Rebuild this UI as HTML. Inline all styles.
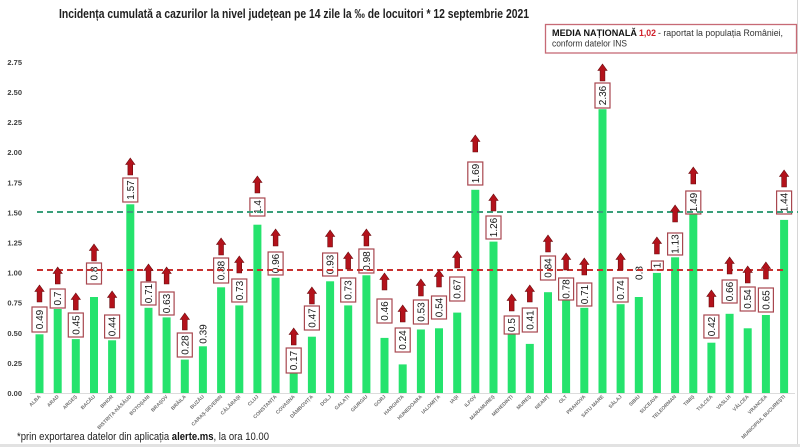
<!DOCTYPE html>
<html><head><meta charset="utf-8">
<style>
html,body{margin:0;padding:0;background:#fff;}
svg{display:block;}
.t{font-family:"Liberation Sans",Arial,sans-serif;}
.yl{font-family:"Liberation Sans",Arial,sans-serif;font-size:7.5px;font-weight:bold;fill:#404040;text-anchor:end;}
.cl{font-family:"Liberation Sans",Arial,sans-serif;font-size:5px;font-weight:bold;fill:#707070;text-anchor:end;}
.bv{font-family:"Liberation Sans",Arial,sans-serif;font-size:10px;fill:#151515;text-anchor:middle;}
.bx{fill:#fff;stroke:#a8474f;stroke-width:1.2;}
.bar{fill:#25e36d;}
</style></head>
<body>
<svg width="800" height="447" viewBox="0 0 800 447" xmlns="http://www.w3.org/2000/svg">
<defs>
<polygon id="arr" points="0,0 4.6,6.5 2.4,6.5 2.4,17 -2.4,17 -2.4,6.5 -4.6,6.5" fill="#b3121b" stroke="#6a0a0e" stroke-width="0.6"/>
</defs>
<rect x="0" y="0" width="800" height="447" fill="#fff"/>
<!-- frame -->
<line x1="797.5" y1="0" x2="797.5" y2="444" stroke="#d6d6d6" stroke-width="1"/>
<rect x="0" y="444" width="800" height="3" fill="#e2e2e2"/>

<!-- title -->
<text class="t" x="59" y="18" font-size="13" font-weight="bold" fill="#1f1f1f" textLength="470" lengthAdjust="spacingAndGlyphs">Incidența cumulată a cazurilor la nivel județean pe 14 zile la ‰ de locuitori * 12 septembrie 2021</text>

<!-- legend -->
<rect x="545.5" y="24.5" width="251" height="28.5" fill="#fff" stroke="#c76a75" stroke-width="1.3"/>
<text class="t" x="552" y="36" font-size="9.5" font-weight="bold" fill="#111" textLength="85" lengthAdjust="spacingAndGlyphs">MEDIA NAȚIONALĂ</text>
<text class="t" x="639" y="36" font-size="9.5" font-weight="bold" fill="#d0202a" textLength="17" lengthAdjust="spacingAndGlyphs">1,02</text>
<text class="t" x="658" y="36" font-size="9" fill="#333" textLength="125" lengthAdjust="spacingAndGlyphs">- raportat la populația României,</text>
<text class="t" x="552" y="46.5" font-size="9" fill="#333" textLength="75" lengthAdjust="spacingAndGlyphs">conform datelor INS</text>

<!-- y axis labels -->
<text class="yl" x="22" y="396">0.00</text>
<text class="yl" x="22" y="365.9">0.25</text>
<text class="yl" x="22" y="335.8">0.50</text>
<text class="yl" x="22" y="305.7">0.75</text>
<text class="yl" x="22" y="275.6">1.00</text>
<text class="yl" x="22" y="245.5">1.25</text>
<text class="yl" x="22" y="215.4">1.50</text>
<text class="yl" x="22" y="185.3">1.75</text>
<text class="yl" x="22" y="155.2">2.00</text>
<text class="yl" x="22" y="125.1">2.25</text>
<text class="yl" x="22" y="95">2.50</text>
<text class="yl" x="22" y="64.9">2.75</text>

<!-- axis line -->
<line x1="30" y1="393.5" x2="795" y2="393.5" stroke="#dcdcdc" stroke-width="1"/>

<!-- bars -->
<rect class="bar" x="35.5" y="334.3" width="8" height="58.7"/>
<rect class="bar" x="53.7" y="309" width="8" height="84"/>
<rect class="bar" x="71.8" y="339.1" width="8" height="53.9"/>
<rect class="bar" x="90" y="297" width="8" height="96"/>
<rect class="bar" x="108.1" y="340.3" width="8" height="52.7"/>
<rect class="bar" x="126.3" y="204.3" width="8" height="188.7"/>
<rect class="bar" x="144.5" y="307.8" width="8" height="85.2"/>
<rect class="bar" x="162.6" y="317.4" width="8" height="75.6"/>
<rect class="bar" x="180.8" y="359.6" width="8" height="33.4"/>
<rect class="bar" x="198.9" y="346.3" width="8" height="46.7"/>
<rect class="bar" x="217.1" y="287.3" width="8" height="105.7"/>
<rect class="bar" x="235.3" y="305.4" width="8" height="87.6"/>
<rect class="bar" x="253.4" y="224.7" width="8" height="168.3"/>
<rect class="bar" x="271.6" y="277.7" width="8" height="115.3"/>
<rect class="bar" x="289.7" y="372.8" width="8" height="20.2"/>
<rect class="bar" x="307.9" y="336.7" width="8" height="56.3"/>
<rect class="bar" x="326.1" y="281.3" width="8" height="111.7"/>
<rect class="bar" x="344.2" y="305.4" width="8" height="87.6"/>
<rect class="bar" x="362.4" y="275.3" width="8" height="117.7"/>
<rect class="bar" x="380.5" y="337.9" width="8" height="55.1"/>
<rect class="bar" x="398.7" y="364.4" width="8" height="28.6"/>
<rect class="bar" x="416.9" y="329.5" width="8" height="63.5"/>
<rect class="bar" x="435" y="328.3" width="8" height="64.7"/>
<rect class="bar" x="453.2" y="312.6" width="8" height="80.4"/>
<rect class="bar" x="471.3" y="189.8" width="8" height="203.2"/>
<rect class="bar" x="489.5" y="241.6" width="8" height="151.4"/>
<rect class="bar" x="507.7" y="333.1" width="8" height="59.9"/>
<rect class="bar" x="525.8" y="343.9" width="8" height="49.1"/>
<rect class="bar" x="544" y="292.2" width="8" height="100.8"/>
<rect class="bar" x="562.1" y="299.4" width="8" height="93.6"/>
<rect class="bar" x="580.3" y="307.8" width="8" height="85.2"/>
<rect class="bar" x="598.5" y="109.2" width="8" height="283.8"/>
<rect class="bar" x="616.6" y="304.2" width="8" height="88.8"/>
<rect class="bar" x="634.8" y="297" width="8" height="96"/>
<rect class="bar" x="652.9" y="272.9" width="8" height="120.1"/>
<rect class="bar" x="671.1" y="257.3" width="8" height="135.7"/>
<rect class="bar" x="689.3" y="213.9" width="8" height="179.1"/>
<rect class="bar" x="707.4" y="342.7" width="8" height="50.3"/>
<rect class="bar" x="725.6" y="313.8" width="8" height="79.2"/>
<rect class="bar" x="743.7" y="328.3" width="8" height="64.7"/>
<rect class="bar" x="761.9" y="315" width="8" height="78"/>
<rect class="bar" x="780.1" y="219.9" width="8" height="173.1"/>

<!-- value boxes -->
<g>
<rect class="bx" x="32" y="307" width="15" height="25"/><text class="bv" transform="translate(43,319.5) rotate(-90)">0.49</text>
<rect class="bx" x="50.2" y="289" width="15" height="19"/><text class="bv" transform="translate(61.2,298.5) rotate(-90)">0.7</text>
<rect class="bx" x="68.3" y="313" width="15" height="24"/><text class="bv" transform="translate(79.3,325) rotate(-90)">0.45</text>
<rect class="bx" x="86.5" y="263" width="15" height="21"/><text class="bv" transform="translate(97.5,273.5) rotate(-90)">0.8</text>
<rect class="bx" x="104.6" y="315" width="15" height="23"/><text class="bv" transform="translate(115.6,326.5) rotate(-90)">0.44</text>
<rect class="bx" x="122.8" y="178" width="15" height="24"/><text class="bv" transform="translate(133.8,190) rotate(-90)">1.57</text>
<rect class="bx" x="141" y="282" width="15" height="23"/><text class="bv" transform="translate(152,293.5) rotate(-90)">0.71</text>
<rect class="bx" x="159.1" y="292" width="15" height="23"/><text class="bv" transform="translate(170.1,303.5) rotate(-90)">0.63</text>
<rect class="bx" x="177.3" y="333" width="15" height="24"/><text class="bv" transform="translate(188.3,345) rotate(-90)">0.28</text>
<text class="bv" transform="translate(206.4,334) rotate(-90)">0.39</text>
<rect class="bx" x="213.6" y="258" width="15" height="25"/><text class="bv" transform="translate(224.6,270.5) rotate(-90)">0.88</text>
<rect class="bx" x="231.8" y="279" width="15" height="23"/><text class="bv" transform="translate(242.8,290.5) rotate(-90)">0.73</text>
<rect class="bx" x="249.9" y="198" width="15" height="18"/><text class="bv" transform="translate(260.9,207) rotate(-90)">1.4</text>
<rect class="bx" x="268.1" y="252" width="15" height="23"/><text class="bv" transform="translate(279.1,263.5) rotate(-90)">0.96</text>
<rect class="bx" x="286.2" y="348" width="15" height="25"/><text class="bv" transform="translate(297.2,360.5) rotate(-90)">0.17</text>
<rect class="bx" x="304.4" y="306" width="15" height="24"/><text class="bv" transform="translate(315.4,318) rotate(-90)">0.47</text>
<rect class="bx" x="322.6" y="253" width="15" height="23"/><text class="bv" transform="translate(333.6,264.5) rotate(-90)">0.93</text>
<rect class="bx" x="340.7" y="278" width="15" height="24"/><text class="bv" transform="translate(351.7,290) rotate(-90)">0.73</text>
<rect class="bx" x="358.9" y="249" width="15" height="24"/><text class="bv" transform="translate(369.9,261) rotate(-90)">0.98</text>
<rect class="bx" x="377" y="299" width="15" height="24"/><text class="bv" transform="translate(388,311) rotate(-90)">0.46</text>
<rect class="bx" x="395.2" y="328" width="15" height="24"/><text class="bv" transform="translate(406.2,340) rotate(-90)">0.24</text>
<rect class="bx" x="413.4" y="300" width="15" height="24"/><text class="bv" transform="translate(424.4,312) rotate(-90)">0.53</text>
<rect class="bx" x="431.5" y="296" width="15" height="23"/><text class="bv" transform="translate(442.5,307.5) rotate(-90)">0.54</text>
<rect class="bx" x="449.7" y="277" width="15" height="24"/><text class="bv" transform="translate(460.7,289) rotate(-90)">0.67</text>
<rect class="bx" x="467.8" y="162" width="15" height="23"/><text class="bv" transform="translate(478.8,173.5) rotate(-90)">1.69</text>
<rect class="bx" x="486" y="216" width="15" height="23"/><text class="bv" transform="translate(497,227.5) rotate(-90)">1.26</text>
<rect class="bx" x="504.2" y="316" width="15" height="18"/><text class="bv" transform="translate(515.2,325) rotate(-90)">0.5</text>
<rect class="bx" x="522.3" y="308" width="15" height="24"/><text class="bv" transform="translate(533.3,320) rotate(-90)">0.41</text>
<rect class="bx" x="540.5" y="256" width="15" height="24"/><text class="bv" transform="translate(551.5,268) rotate(-90)">0.84</text>
<rect class="bx" x="558.6" y="278" width="15" height="22"/><text class="bv" transform="translate(569.6,289) rotate(-90)">0.78</text>
<rect class="bx" x="576.8" y="283" width="15" height="23"/><text class="bv" transform="translate(587.8,294.5) rotate(-90)">0.71</text>
<rect class="bx" x="595" y="83" width="15" height="25"/><text class="bv" transform="translate(606,95.5) rotate(-90)">2.36</text>
<rect class="bx" x="613.1" y="278" width="15" height="24"/><text class="bv" transform="translate(624.1,290) rotate(-90)">0.74</text>
<text class="bv" transform="translate(642.3,273) rotate(-90)">0.8</text>
<rect class="bx" x="651.4" y="261" width="12" height="9"/><text class="bv" font-size="8" transform="translate(660.4,265.5) rotate(-90)">1</text>
<rect class="bx" x="667.6" y="233" width="15" height="22"/><text class="bv" transform="translate(678.6,244) rotate(-90)">1.13</text>
<rect class="bx" x="685.8" y="191" width="15" height="23"/><text class="bv" transform="translate(696.8,202.5) rotate(-90)">1.49</text>
<rect class="bx" x="703.9" y="315" width="15" height="23"/><text class="bv" transform="translate(714.9,326.5) rotate(-90)">0.42</text>
<rect class="bx" x="722.1" y="280" width="15" height="23"/><text class="bv" transform="translate(733.1,291.5) rotate(-90)">0.66</text>
<rect class="bx" x="740.2" y="287" width="15" height="24"/><text class="bv" transform="translate(751.2,299) rotate(-90)">0.54</text>
<rect class="bx" x="758.4" y="288" width="15" height="24"/><text class="bv" transform="translate(769.4,300) rotate(-90)">0.65</text>
<rect class="bx" x="776.6" y="191" width="15" height="23"/><text class="bv" transform="translate(787.6,202.5) rotate(-90)">1.44</text>
</g>

<!-- reference lines -->
<line x1="37" y1="270" x2="786" y2="270" stroke="#c8302f" stroke-width="2" stroke-dasharray="6,4"/>
<line x1="37" y1="212" x2="798" y2="212" stroke="#3a9f7a" stroke-width="2" stroke-dasharray="6,4"/>

<!-- arrows -->
<use href="#arr" x="39.5" y="285"/>
<use href="#arr" x="57.7" y="267"/>
<use href="#arr" x="75.8" y="293"/>
<use href="#arr" x="94" y="244"/>
<use href="#arr" x="112.1" y="291"/>
<use href="#arr" x="130.3" y="158"/>
<use href="#arr" x="148.5" y="264"/>
<use href="#arr" x="166.6" y="267"/>
<use href="#arr" x="184.8" y="313"/>
<use href="#arr" x="221.1" y="238"/>
<use href="#arr" x="239.3" y="256"/>
<use href="#arr" x="257.4" y="176"/>
<use href="#arr" x="275.6" y="229"/>
<use href="#arr" x="293.7" y="328"/>
<use href="#arr" x="311.9" y="287"/>
<use href="#arr" x="330.1" y="230"/>
<use href="#arr" x="348.2" y="252"/>
<use href="#arr" x="366.4" y="229"/>
<use href="#arr" x="384.5" y="273"/>
<use href="#arr" x="402.7" y="305"/>
<use href="#arr" x="420.9" y="279"/>
<use href="#arr" x="439" y="270"/>
<use href="#arr" x="457.2" y="251"/>
<use href="#arr" x="475.3" y="135"/>
<use href="#arr" x="493.5" y="194"/>
<use href="#arr" x="511.7" y="294"/>
<use href="#arr" x="529.8" y="285"/>
<use href="#arr" x="548" y="235"/>
<use href="#arr" x="566.1" y="253"/>
<use href="#arr" x="584.3" y="258"/>
<use href="#arr" x="602.5" y="64"/>
<use href="#arr" x="620.6" y="253"/>
<use href="#arr" x="656.9" y="237"/>
<use href="#arr" x="675.1" y="205"/>
<use href="#arr" x="693.3" y="167"/>
<use href="#arr" x="711.4" y="290"/>
<use href="#arr" x="729.6" y="257"/>
<use href="#arr" x="747.7" y="266"/>
<use href="#arr" x="765.9" y="262"/>
<use href="#arr" x="784.1" y="170"/>

<!-- category labels -->
<text class="cl" transform="translate(41,397) rotate(-45)">ALBA</text>
<text class="cl" transform="translate(59.2,397) rotate(-45)">ARAD</text>
<text class="cl" transform="translate(77.3,397) rotate(-45)">ARGEȘ</text>
<text class="cl" transform="translate(95.5,397) rotate(-45)">BACĂU</text>
<text class="cl" transform="translate(113.6,397) rotate(-45)">BIHOR</text>
<text class="cl" transform="translate(131.8,397) rotate(-45)">BISTRIȚA-NĂSĂUD</text>
<text class="cl" transform="translate(150,397) rotate(-45)">BOTOȘANI</text>
<text class="cl" transform="translate(168.1,397) rotate(-45)">BRAȘOV</text>
<text class="cl" transform="translate(186.3,397) rotate(-45)">BRĂILA</text>
<text class="cl" transform="translate(204.4,397) rotate(-45)">BUZĂU</text>
<text class="cl" transform="translate(222.6,397) rotate(-45)">CARAȘ-SEVERIN</text>
<text class="cl" transform="translate(240.8,397) rotate(-45)">CĂLĂRAȘI</text>
<text class="cl" transform="translate(258.9,397) rotate(-45)">CLUJ</text>
<text class="cl" transform="translate(277.1,397) rotate(-45)">CONSTANȚA</text>
<text class="cl" transform="translate(295.2,397) rotate(-45)">COVASNA</text>
<text class="cl" transform="translate(313.4,397) rotate(-45)">DÂMBOVIȚA</text>
<text class="cl" transform="translate(331.6,397) rotate(-45)">DOLJ</text>
<text class="cl" transform="translate(349.7,397) rotate(-45)">GALAȚI</text>
<text class="cl" transform="translate(367.9,397) rotate(-45)">GIURGIU</text>
<text class="cl" transform="translate(386,397) rotate(-45)">GORJ</text>
<text class="cl" transform="translate(404.2,397) rotate(-45)">HARGHITA</text>
<text class="cl" transform="translate(422.4,397) rotate(-45)">HUNEDOARA</text>
<text class="cl" transform="translate(440.5,397) rotate(-45)">IALOMIȚA</text>
<text class="cl" transform="translate(458.7,397) rotate(-45)">IAȘI</text>
<text class="cl" transform="translate(476.8,397) rotate(-45)">ILFOV</text>
<text class="cl" transform="translate(495,397) rotate(-45)">MARAMUREȘ</text>
<text class="cl" transform="translate(513.2,397) rotate(-45)">MEHEDINȚI</text>
<text class="cl" transform="translate(531.3,397) rotate(-45)">MUREȘ</text>
<text class="cl" transform="translate(549.5,397) rotate(-45)">NEAMȚ</text>
<text class="cl" transform="translate(567.6,397) rotate(-45)">OLT</text>
<text class="cl" transform="translate(585.8,397) rotate(-45)">PRAHOVA</text>
<text class="cl" transform="translate(604,397) rotate(-45)">SATU MARE</text>
<text class="cl" transform="translate(622.1,397) rotate(-45)">SĂLAJ</text>
<text class="cl" transform="translate(640.3,397) rotate(-45)">SIBIU</text>
<text class="cl" transform="translate(658.4,397) rotate(-45)">SUCEAVA</text>
<text class="cl" transform="translate(676.6,397) rotate(-45)">TELEORMAN</text>
<text class="cl" transform="translate(694.8,397) rotate(-45)">TIMIȘ</text>
<text class="cl" transform="translate(712.9,397) rotate(-45)">TULCEA</text>
<text class="cl" transform="translate(731.1,397) rotate(-45)">VASLUI</text>
<text class="cl" transform="translate(749.2,397) rotate(-45)">VÂLCEA</text>
<text class="cl" transform="translate(767.4,397) rotate(-45)">VRANCEA</text>
<text class="cl" transform="translate(785.6,397) rotate(-45)">MUNICIPIUL BUCUREȘTI</text>

<!-- footer -->
<text class="t" x="17" y="440" font-size="11" fill="#222" textLength="252" lengthAdjust="spacingAndGlyphs">*prin exportarea datelor din aplicația <tspan font-weight="bold" fill="#111">alerte.ms</tspan>, la ora 10.00</text>
</svg>
</body></html>
